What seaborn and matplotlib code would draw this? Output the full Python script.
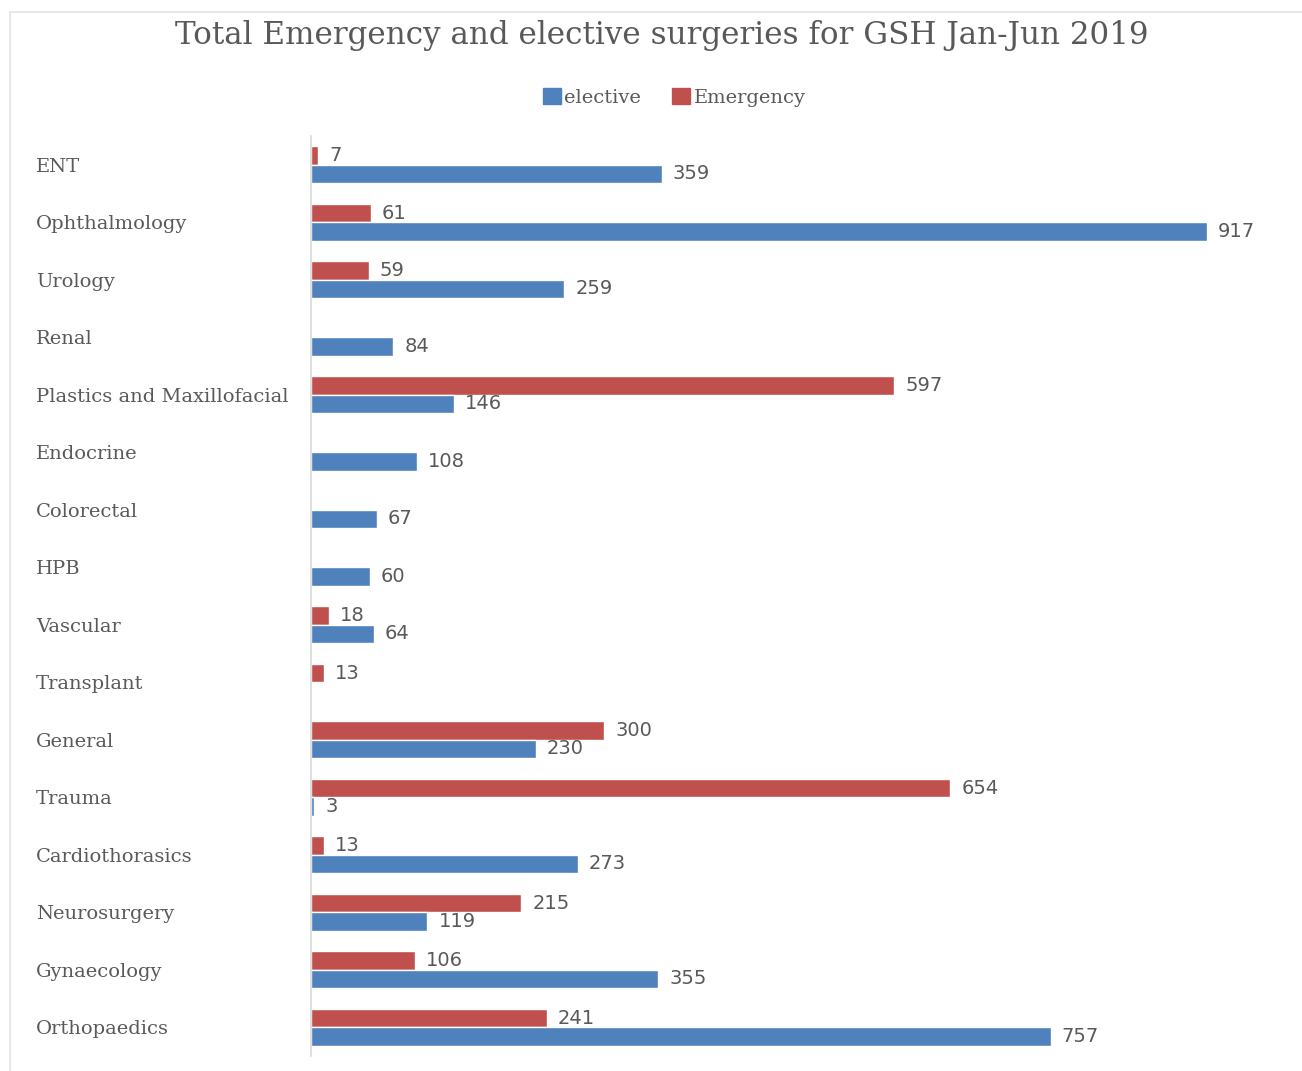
import matplotlib
matplotlib.use("Agg")
import matplotlib.pyplot as plt
import matplotlib.patches as mpatches
import seaborn as sns
import pandas as pd

departments = [
    "ENT", "Ophthalmology", "Urology", "Renal", "Plastics and Maxillofacial",
    "Endocrine", "Colorectal", "HPB", "Vascular", "Transplant", "General",
    "Trauma", "Cardiothorasics", "Neurosurgery", "Gynaecology", "Orthopaedics",
]
emergency = [7, 61, 59, 0, 597, 0, 0, 0, 18, 13, 300, 654, 13, 215, 106, 241]
elective = [359, 917, 259, 84, 146, 108, 67, 60, 64, 0, 230, 3, 273, 119, 355, 757]

series_order = ["Emergency", "elective"]
colors = {"elective": "#4F81BD", "Emergency": "#C0504D"}
text_gray = "#595959"

df = pd.DataFrame({
    "department": departments * 2,
    "type": ["Emergency"] * len(departments) + ["elective"] * len(departments),
    "count": emergency + elective,
})

sns.set_theme(style="white")
plt.rcParams["font.family"] = ["DejaVu Serif"]

fig = plt.figure(figsize=(13.02, 10.71), dpi=100)
ax = fig.add_axes([0.2389, 0.014, 0.7504, 0.859])

sns.barplot(data=df, y="department", x="count", hue="type", hue_order=series_order,
            order=departments, palette=colors, orient="h", width=0.64,
            saturation=1, ax=ax, legend=False)

ax.set_xlim(0, 1000)
ax.set_ylim(len(departments) - 0.5, -0.5)
ax.set_xlabel("")
ax.set_ylabel("")
ax.set_xticks([])
for side in ["top", "right", "bottom"]:
    ax.spines[side].set_visible(False)
ax.spines["left"].set_color("#d9d9d9")
ax.spines["left"].set_linewidth(1.2)

# left-aligned category names starting near the figure's left edge
ax.set_yticks(range(len(departments)))
ax.set_yticklabels(departments, fontsize=14, color=text_gray, ha="left")
ax.tick_params(axis="y", length=0, pad=198)

for container, name in zip(ax.containers, series_order):
    vals = emergency if name == "Emergency" else elective
    labels = [str(v) if v > 0 else "" for v in vals]
    ax.bar_label(container, labels=labels, padding=8, fontsize=14,
                 color=text_gray, family="DejaVu Sans")

fig.text(0.5085, 0.967, "Total Emergency and elective surgeries for GSH Jan-Jun 2019",
         ha="center", va="center", fontsize=22.3, color=text_gray)

handles = [mpatches.Patch(color=colors["elective"], label="elective"),
           mpatches.Patch(color=colors["Emergency"], label="Emergency")]
fig.legend(handles=handles, loc="center", bbox_to_anchor=(0.518, 0.909), ncol=2,
           frameon=False, fontsize=14, handlelength=0.9, handleheight=0.9,
           handletextpad=0.2, columnspacing=1.6, labelcolor=text_gray)

frame = mpatches.Rectangle((10 / 1302, -0.05), 1.2, 0.05 + 1 - 12 / 1071,
                           transform=fig.transFigure, fill=False,
                           edgecolor="#e3e3e3", linewidth=1.2)
fig.patches.append(frame)

fig.savefig("out.png", dpi=100)
